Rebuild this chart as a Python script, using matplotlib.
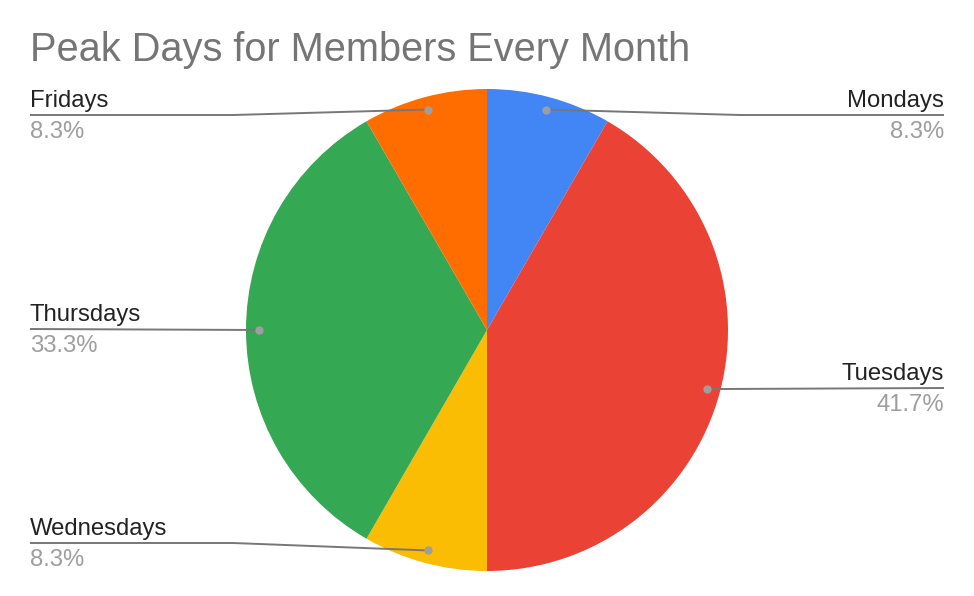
import numpy as np
import matplotlib.pyplot as plt

days = ['Mondays', 'Tuesdays', 'Wednesdays', 'Thursdays', 'Fridays']
counts = [1, 5, 1, 4, 1]
colors = ['#4285F4', '#EA4335', '#FBBC04', '#34A853', '#FF6D01']
title = 'Peak Days for Members Every Month'

# label line heights (pixels from top)
label_y = [115, 388, 543, 329, 115]

W, H = 974, 596
plt.rcParams['font.family'] = ['Liberation Sans', 'DejaVu Sans']

fig = plt.figure(figsize=(W / 100, H / 100), dpi=100)
ax = fig.add_axes([0, 0, 1, 1])

cx, cy, R = 487, H - 330, 241
wedges, _ = ax.pie(counts, colors=colors, startangle=90, counterclock=False,
                   center=(cx, cy), radius=R, frame=True,
                   wedgeprops=dict(linewidth=0))
ax.set_xlim(0, W)
ax.set_ylim(0, H)
ax.set_aspect('auto')
ax.axis('off')

total = sum(counts)
for w, name, n, ly in zip(wedges, days, counts, label_y):
    mid = np.deg2rad((w.theta1 + w.theta2) / 2)
    dx = cx + 0.947 * R * np.cos(mid)
    dy = cy + 0.947 * R * np.sin(mid)
    ly = H - ly
    pct = f'{100 * n / total:.1f}%'
    if np.cos(mid) >= 0:
        bend, end, ha = 740, 944, 'right'
    else:
        bend, end, ha = 233, 30, 'left'
    if abs(dy - ly) < 3:
        xs, ys = [dx, end], [dy, ly]
    else:
        xs, ys = [dx, bend, end], [dy, ly, ly]
    ax.plot(xs, ys, color='#777777', lw=1.4, solid_capstyle='butt', zorder=3)
    ax.plot(dx, dy, 'o', color='#9e9e9e', ms=6, mec='none', zorder=4)
    ax.text(end, ly + 8, name, ha=ha, va='baseline', fontsize=17.2, color='#222222')
    ax.text(end, ly - 23, pct, ha=ha, va='baseline', fontsize=17.2, color='#9e9e9e')

ax.text(30, H - 61, title, ha='left', va='baseline', fontsize=28.6, color='#757575')

fig.savefig('out.png', dpi=100)
